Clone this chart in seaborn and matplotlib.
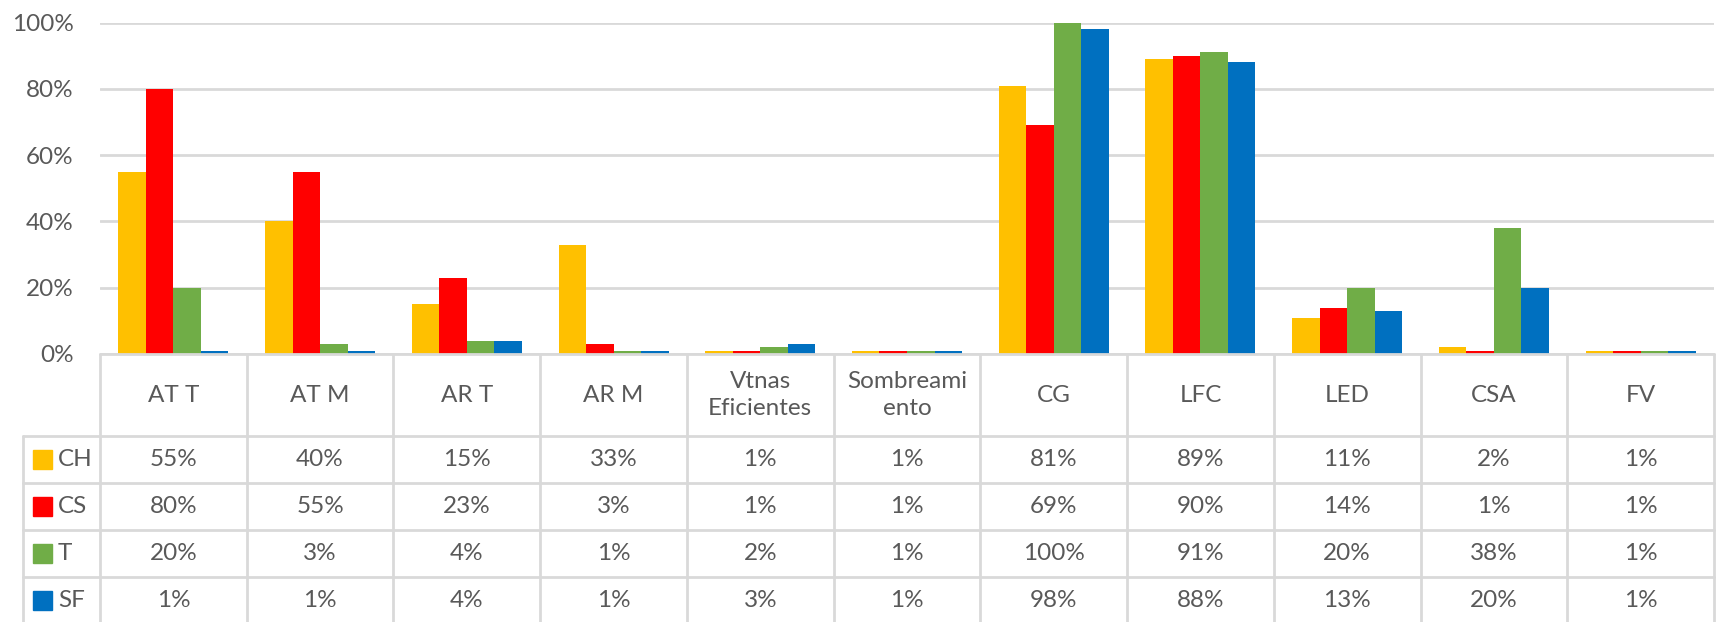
import numpy as np
import pandas as pd
import matplotlib
matplotlib.use('Agg')
import matplotlib.pyplot as plt
from matplotlib.patches import Rectangle
import seaborn as sns

# datos (porcentajes)
categorias = ['AT T', 'AT M', 'AR T', 'AR M', 'Vtnas\nEficientes', 'Sombreami\nento',
              'CG', 'LFC', 'LED', 'CSA', 'FV']
series = ['CH', 'CS', 'T', 'SF']
ch = [55, 40, 15, 33, 1, 1, 81, 89, 11, 2, 1]
cs = [80, 55, 23, 3, 1, 1, 69, 90, 14, 1, 1]
t = [20, 3, 4, 1, 2, 1, 100, 91, 20, 38, 1]
sf = [1, 1, 4, 1, 3, 1, 98, 88, 13, 20, 1]
colores = ['#FFC000', '#FF0000', '#70AD47', '#0070C0']
yticks = [0, 0.2, 0.4, 0.6, 0.8, 1.0]
ytick_labels = ['0%', '20%', '40%', '60%', '80%', '100%']

sns.set_style('white')
plt.rcParams['font.family'] = ['Lato', 'DejaVu Sans']

valores = [ch, cs, t, sf]
df = pd.DataFrame({
    'categoria': categorias * len(series),
    'serie': np.repeat(series, len(categorias)),
    'valor': np.array(ch + cs + t + sf) / 100,
})

gris_txt = '#595959'
gris_lin = '#D9D9D9'
fs = 17.5

W, H = 1725, 622
x0, x1 = 100, 1714
y0, y100 = 354, 22.6
paso = (x1 - x0) / len(categorias)

fig = plt.figure(figsize=(W / 100, H / 100), dpi=100)
ax = fig.add_axes([x0 / W, 1 - y0 / H, (x1 - x0) / W, (y0 - y100) / H])
sns.barplot(data=df, x='categoria', y='valor', hue='serie', hue_order=series,
            palette=colores, width=0.75, gap=0, saturation=1, linewidth=0,
            legend=False, ax=ax)
ax.set_ylim(0, 1)
ax.set_xlim(-0.5, len(categorias) - 0.5)
ax.set_yticks(yticks)
ax.set_yticklabels(ytick_labels, fontsize=fs, color=gris_txt)
ax.set_xticks([])
ax.set_xlabel('')
ax.set_ylabel('')
ax.tick_params(axis='y', length=0, pad=19)
ax.grid(axis='y', color=gris_lin, linewidth=2)
ax.set_axisbelow(True)
for s in ax.spines.values():
    s.set_visible(False)

# tabla de datos debajo
tb = fig.add_axes([x0 / W, 0, (x1 - x0) / W, (H - y0) / H])
tb.set_xlim(-0.5, len(categorias) - 0.5)
tb.set_ylim(H, y0)
tb.axis('off')


def px2x(px):
    return (px - x0) / paso - 0.5


filas = [436, 483, 530, 577, 624]
xl = px2x(23)
kw = dict(color=gris_lin, lw=2, clip_on=False)
tb.plot([-0.5, len(categorias) - 0.5], [y0, y0], **kw)
for k in range(len(categorias) + 1):
    tb.plot([k - 0.5, k - 0.5], [y0, H + 2], **kw)
for yf in filas[:-1]:
    tb.plot([xl, len(categorias) - 0.5], [yf, yf], **kw)
tb.plot([xl, xl], [filas[0], H + 2], **kw)

for i, c in enumerate(categorias):
    tb.text(i, (y0 + filas[0]) / 2, c, ha='center', va='center', fontsize=fs,
            color=gris_txt, linespacing=1.4)

for j, (nombre, vals) in enumerate(zip(series, valores)):
    yc = (filas[j] + filas[j + 1]) / 2
    for i, v in enumerate(vals):
        tb.text(i, yc, f'{v}%', ha='center', va='center', fontsize=fs, color=gris_txt)
    tb.add_patch(Rectangle((px2x(33), yc - 9.5), px2x(52) - px2x(33), 19,
                           color=colores[j], clip_on=False))
    tb.text(px2x(58), yc, nombre, ha='left', va='center', fontsize=fs, color=gris_txt)

fig.savefig('out.png', dpi=100)
